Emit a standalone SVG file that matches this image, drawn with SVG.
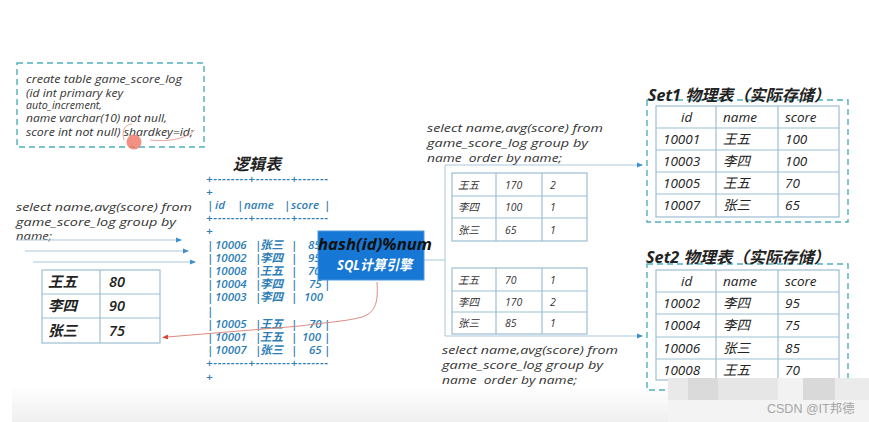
<svg xmlns="http://www.w3.org/2000/svg" width="869" height="422" viewBox="0 0 869 422">
<defs>
<linearGradient id="bg" x1="0" y1="0" x2="0" y2="1">
<stop offset="0" stop-color="#ffffff"/>
<stop offset="1" stop-color="#efefef"/>
</linearGradient>
<marker id="ab" viewBox="0 0 6 6" refX="5" refY="3" markerWidth="6" markerHeight="6" orient="auto" markerUnits="userSpaceOnUse">
<path d="M0,0.5 L6,3 L0,5.5 Z" fill="#3d8fcf"/>
</marker>
<marker id="ar" viewBox="0 0 6 6" refX="1" refY="3" markerWidth="6" markerHeight="6" orient="auto-start-reverse" markerUnits="userSpaceOnUse">
<path d="M0,0.5 L6,3 L0,5.5 Z" fill="#d9473a"/>
</marker>
</defs>
<style>
.q{font-family:"Open Sans","Noto Sans CJK SC",sans-serif;font-style:italic;font-size:11.5px;fill:#333}
.c{font-family:"Open Sans","Noto Sans CJK SC",sans-serif;font-style:italic;font-size:10.5px;fill:#333}
.lg{font-family:"Open Sans","Noto Sans CJK SC",sans-serif;font-style:italic;font-size:11.5px;fill:#2e7eb5;font-weight:600}
.mt{font-family:"Open Sans","Noto Sans CJK SC",sans-serif;font-style:italic;font-size:10.5px;fill:#333}
.st{font-family:"Open Sans","Noto Sans CJK SC",sans-serif;font-style:italic;font-size:13.5px;fill:#222}
.rt{font-family:"Open Sans","Noto Sans CJK SC",sans-serif;font-style:italic;font-size:14.5px;fill:#222;font-weight:600}
.ttl{font-family:"Open Sans","Noto Sans CJK SC",sans-serif;font-style:italic;font-size:16px;fill:#222;font-weight:700}
.tb{fill:#fff;stroke:#9cbfd3;stroke-width:1.2}
.tl{stroke:#9cbfd3;stroke-width:1.2}
.dash{fill:none;stroke:#4fb0bd;stroke-width:1.4;stroke-dasharray:6,4}
.conn{fill:none;stroke:#a9c7da;stroke-width:1}
</style>
<rect x="0" y="0" width="869" height="422" fill="#fff"/>
<rect x="12" y="385" width="857" height="37" fill="url(#bg)"/>

<g id="ddl">
<rect x="17" y="63" width="187" height="84" class="dash"/>
<text class="c" x="26" y="83" textLength="156" lengthAdjust="spacingAndGlyphs">create table game_score_log</text>
<text class="c" x="26" y="97" textLength="97" lengthAdjust="spacingAndGlyphs">(id int primary key</text>
<text class="c" x="26" y="109" textLength="76" lengthAdjust="spacingAndGlyphs">auto_increment,</text>
<text class="c" x="26" y="122" textLength="141" lengthAdjust="spacingAndGlyphs">name varchar(10) not null,</text>
<text class="c" x="26" y="136" textLength="167" lengthAdjust="spacingAndGlyphs">score int not null) shardkey=id;</text>
<path d="M124,140 C121,130 126,124 132,124 M150,140 C165,142 185,140 195,130" fill="none" stroke="#e58b80" stroke-width="0.8"/>
<circle cx="134" cy="142" r="7.5" fill="#f07d6e" opacity="0.85"/>
</g>

<g id="query-left">
<text class="q" x="16" y="211" textLength="176" lengthAdjust="spacingAndGlyphs">select name,avg(score) from</text>
<text class="q" x="16" y="226" textLength="160" lengthAdjust="spacingAndGlyphs">game_score_log group by</text>
<text class="q" x="16" y="240" textLength="36" lengthAdjust="spacingAndGlyphs">name;</text>
</g>

<g id="result-left">
<rect x="42" y="270" width="118" height="73" class="tb"/>
<line x1="42" y1="294" x2="160" y2="294" class="tl"/>
<line x1="42" y1="318" x2="160" y2="318" class="tl"/>
<line x1="100" y1="270" x2="100" y2="343" class="tl"/>
<text class="rt" y="287"><tspan x="48">王五</tspan><tspan x="109">80</tspan></text>
<text class="rt" y="311"><tspan x="48">李四</tspan><tspan x="109">90</tspan></text>
<text class="rt" y="336"><tspan x="48">张三</tspan><tspan x="109">75</tspan></text>
</g>

<g id="logic-table">
<text class="ttl" x="233" y="170" textLength="48" lengthAdjust="spacingAndGlyphs">逻辑表</text>
<text class="lg" x="206" y="183" textLength="122" lengthAdjust="spacing">+--------+--------+-------</text>
<text class="lg" x="206" y="196">+</text>
<text class="lg" y="209"><tspan x="207">|</tspan><tspan x="215">id</tspan><tspan x="237">|</tspan><tspan x="244">name</tspan><tspan x="284">|</tspan><tspan x="291">score</tspan><tspan x="324">|</tspan></text>
<text class="lg" x="206" y="222" textLength="122" lengthAdjust="spacing">+--------+--------+-------</text>
<text class="lg" x="206" y="235">+</text>
<text class="lg" y="249"><tspan x="207">|</tspan><tspan x="215">10006</tspan><tspan x="255">|</tspan><tspan x="260">张三</tspan><tspan x="291">|</tspan><tspan x="308">85</tspan></text>
<text class="lg" y="262"><tspan x="207">|</tspan><tspan x="215">10002</tspan><tspan x="255">|</tspan><tspan x="260">李四</tspan><tspan x="291">|</tspan><tspan x="308">95</tspan></text>
<text class="lg" y="275"><tspan x="207">|</tspan><tspan x="215">10008</tspan><tspan x="255">|</tspan><tspan x="260">王五</tspan><tspan x="291">|</tspan><tspan x="308">70</tspan></text>
<text class="lg" y="288"><tspan x="207">|</tspan><tspan x="215">10004</tspan><tspan x="255">|</tspan><tspan x="260">李四</tspan><tspan x="291">|</tspan><tspan x="309">75</tspan><tspan x="324">|</tspan></text>
<text class="lg" y="301"><tspan x="207">|</tspan><tspan x="215">10003</tspan><tspan x="255">|</tspan><tspan x="260">李四</tspan><tspan x="291">|</tspan><tspan x="304">100</tspan></text>
<text class="lg" x="207" y="315">|</text>
<text class="lg" y="328"><tspan x="207">|</tspan><tspan x="215">10005</tspan><tspan x="255">|</tspan><tspan x="260">王五</tspan><tspan x="291">|</tspan><tspan x="309">70</tspan><tspan x="324">|</tspan></text>
<text class="lg" y="341"><tspan x="207">|</tspan><tspan x="215">10001</tspan><tspan x="255">|</tspan><tspan x="260">王五</tspan><tspan x="291">|</tspan><tspan x="302">100</tspan><tspan x="324">|</tspan></text>
<text class="lg" y="354"><tspan x="207">|</tspan><tspan x="215">10007</tspan><tspan x="255">|</tspan><tspan x="260">张三</tspan><tspan x="291">|</tspan><tspan x="309">65</tspan><tspan x="324">|</tspan></text>
<text class="lg" x="206" y="367" textLength="122" lengthAdjust="spacing">+--------+--------+-------</text>
<text class="lg" x="206" y="381">+</text>
</g>

<g id="connectors">
<line x1="16" y1="240" x2="181" y2="240" class="conn" marker-end="url(#ab)"/>
<line x1="25" y1="251" x2="188" y2="251" class="conn" marker-end="url(#ab)"/>
<line x1="33" y1="262" x2="195" y2="262" class="conn" marker-end="url(#ab)"/>
<path d="M377,282 C378,300 377,312 362,317 C348,321 330,322 300,326 L167,337" fill="none" stroke="#dc8a80" stroke-width="1" marker-end="url(#ar)"/>
<polyline points="424,260 445,260" class="conn"/>
<line x1="445" y1="165" x2="445" y2="336" class="conn"/>
<line x1="445" y1="165" x2="642" y2="165" class="conn" marker-end="url(#ab)"/>
<line x1="445" y1="336" x2="642" y2="336" class="conn" marker-end="url(#ab)"/>
</g>

<g id="sql-engine">
<rect x="318" y="231" width="106" height="49" fill="#1677d4" stroke="#4a9ae0" stroke-width="1"/>
<text x="318" y="250" textLength="114" lengthAdjust="spacingAndGlyphs" style="font-family:'Open Sans',sans-serif;font-style:italic;font-weight:700;font-size:16px;fill:#111">hash(id)%num</text>
<text x="337" y="270" textLength="75" lengthAdjust="spacingAndGlyphs" style="font-family:'Open Sans','Noto Sans CJK SC',sans-serif;font-style:italic;font-weight:700;font-size:14px;fill:#fff">SQL计算引擎</text>
</g>

<g id="partial-1">
<text class="q" x="427" y="132" textLength="176" lengthAdjust="spacingAndGlyphs">select name,avg(score) from</text>
<text class="q" x="427" y="147" textLength="161" lengthAdjust="spacingAndGlyphs">game_score_log group by</text>
<text class="q" x="427" y="162" textLength="135" lengthAdjust="spacingAndGlyphs" xml:space="preserve">name  order by name;</text>
<rect x="452" y="173" width="135" height="68" class="tb"/>
<line x1="452" y1="196" x2="587" y2="196" class="tl"/>
<line x1="452" y1="218" x2="587" y2="218" class="tl"/>
<line x1="496" y1="173" x2="496" y2="241" class="tl"/>
<line x1="542" y1="173" x2="542" y2="241" class="tl"/>
<text class="mt" y="189"><tspan x="458">王五</tspan><tspan x="505">170</tspan><tspan x="550">2</tspan></text>
<text class="mt" y="211"><tspan x="458">李四</tspan><tspan x="505">100</tspan><tspan x="550">1</tspan></text>
<text class="mt" y="234"><tspan x="458">张三</tspan><tspan x="505">65</tspan><tspan x="550">1</tspan></text>
</g>

<g id="partial-2">
<rect x="452" y="268" width="135" height="66" class="tb"/>
<line x1="452" y1="291" x2="587" y2="291" class="tl"/>
<line x1="452" y1="312" x2="587" y2="312" class="tl"/>
<line x1="496" y1="268" x2="496" y2="334" class="tl"/>
<line x1="542" y1="268" x2="542" y2="334" class="tl"/>
<text class="mt" y="284"><tspan x="458">王五</tspan><tspan x="505">70</tspan><tspan x="550">1</tspan></text>
<text class="mt" y="306"><tspan x="458">李四</tspan><tspan x="505">170</tspan><tspan x="550">2</tspan></text>
<text class="mt" y="327"><tspan x="458">张三</tspan><tspan x="505">85</tspan><tspan x="550">1</tspan></text>
<text class="q" x="442" y="354" textLength="176" lengthAdjust="spacingAndGlyphs">select name,avg(score) from</text>
<text class="q" x="442" y="369" textLength="161" lengthAdjust="spacingAndGlyphs">game_score_log group by</text>
<text class="q" x="442" y="384" textLength="135" lengthAdjust="spacingAndGlyphs" xml:space="preserve">name  order by name;</text>
</g>

<g id="set1">
<rect x="647" y="100" width="201" height="122" class="dash"/>
<rect x="656" y="106" width="183" height="111" class="tb"/>
<line x1="656" y1="128" x2="839" y2="128" class="tl"/>
<line x1="656" y1="150" x2="839" y2="150" class="tl"/>
<line x1="656" y1="172" x2="839" y2="172" class="tl"/>
<line x1="656" y1="194" x2="839" y2="194" class="tl"/>
<line x1="716" y1="106" x2="716" y2="217" class="tl"/>
<line x1="778" y1="106" x2="778" y2="217" class="tl"/>
<text class="ttl" x="648" y="101" textLength="182" lengthAdjust="spacingAndGlyphs">Set1 物理表（实际存储）</text>
<text class="st" y="122"><tspan x="681">id</tspan><tspan x="723">name</tspan><tspan x="785">score</tspan></text>
<text class="st" y="144"><tspan x="663">10001</tspan><tspan x="723">王五</tspan><tspan x="785">100</tspan></text>
<text class="st" y="166"><tspan x="663">10003</tspan><tspan x="723">李四</tspan><tspan x="785">100</tspan></text>
<text class="st" y="188"><tspan x="663">10005</tspan><tspan x="723">王五</tspan><tspan x="785">70</tspan></text>
<text class="st" y="210"><tspan x="663">10007</tspan><tspan x="723">张三</tspan><tspan x="785">65</tspan></text>
</g>

<g id="set2">
<rect x="647" y="264" width="201" height="126" class="dash"/>
<rect x="656" y="270" width="183" height="110" class="tb"/>
<line x1="656" y1="292" x2="839" y2="292" class="tl"/>
<line x1="656" y1="314" x2="839" y2="314" class="tl"/>
<line x1="656" y1="337" x2="839" y2="337" class="tl"/>
<line x1="656" y1="359" x2="839" y2="359" class="tl"/>
<line x1="716" y1="270" x2="716" y2="380" class="tl"/>
<line x1="778" y1="270" x2="778" y2="380" class="tl"/>
<text class="ttl" x="646" y="263" textLength="184" lengthAdjust="spacingAndGlyphs">Set2 物理表（实际存储）</text>
<text class="st" y="286"><tspan x="681">id</tspan><tspan x="723">name</tspan><tspan x="785">score</tspan></text>
<text class="st" y="308"><tspan x="663">10002</tspan><tspan x="723">李四</tspan><tspan x="785">95</tspan></text>
<text class="st" y="330"><tspan x="663">10004</tspan><tspan x="723">李四</tspan><tspan x="785">75</tspan></text>
<text class="st" y="353"><tspan x="663">10006</tspan><tspan x="723">张三</tspan><tspan x="785">85</tspan></text>
<text class="st" y="375"><tspan x="663">10008</tspan><tspan x="723">王五</tspan><tspan x="785">70</tspan></text>
</g>

<g id="watermark">
<rect x="668" y="378" width="20" height="22" fill="#e9e9e9"/>
<rect x="688" y="378" width="30" height="22" fill="#dadada"/>
<rect x="718" y="378" width="60" height="22" fill="#e6e6e6"/>
<rect x="778" y="378" width="25" height="22" fill="#f2f2f2"/>
<rect x="803" y="378" width="32" height="22" fill="#d9d9d9"/>
<rect x="835" y="378" width="34" height="22" fill="#ebebeb"/>
<rect x="668" y="400" width="201" height="22" fill="#f3f3f3"/>
<text x="767" y="413" style="font-family:'Liberation Sans','Noto Sans CJK SC',sans-serif;font-size:12.5px;fill:#a6a6a6">CSDN @IT邦德</text>
</g>
</svg>
